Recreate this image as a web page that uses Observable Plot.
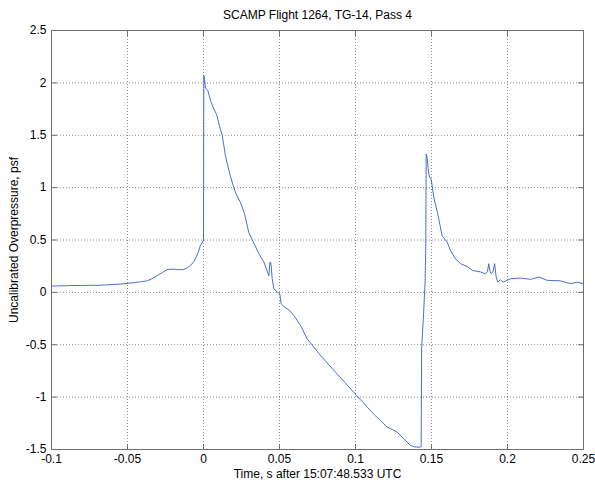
<!DOCTYPE html>
<html><head><meta charset="utf-8">
<script src="https://cdn.jsdelivr.net/npm/d3@7"></script>
<script src="https://cdn.jsdelivr.net/npm/@observablehq/plot@0.6"></script>
<style>body{margin:0;background:#fff}</style>
</head><body><div id="chart"></div>
<script>
const titleText = "SCAMP Flight 1264, TG-14, Pass 4";
const xLabel = "Time, s after 15:07:48.533 UTC";
const yLabel = "Uncalibrated Overpressure, psf";
const xTicks = [-0.1, -0.05, 0, 0.05, 0.1, 0.15, 0.2, 0.25];
const yTicks = [-1.5, -1, -0.5, 0, 0.5, 1, 1.5, 2, 2.5];

const time = [
  -0.1, -0.095, -0.09, -0.085, -0.08, -0.075, -0.07, -0.065, -0.06, -0.055,
  -0.05, -0.045, -0.04, -0.037, -0.034, -0.0305, -0.027, -0.024, -0.02, -0.016,
  -0.013, -0.0105, -0.0086, -0.0065, -0.0053, -0.0035, -0.002, -0.001, 0.0,
  0.0002, 0.0007, 0.0013, 0.0028, 0.0046, 0.0068, 0.0086, 0.0105, 0.0123, 0.0145,
  0.0173, 0.0195, 0.0217, 0.0243, 0.027, 0.0298, 0.0331, 0.0364, 0.0397, 0.043,
  0.0437, 0.0443, 0.0452, 0.0463, 0.0485, 0.0502, 0.0511, 0.0528, 0.0561, 0.0594,
  0.0638, 0.0682, 0.073, 0.078, 0.083, 0.088, 0.093, 0.098, 0.103, 0.108,
  0.1125, 0.1165, 0.1209, 0.1245, 0.1274, 0.1318, 0.1362, 0.139, 0.1428, 0.1432,
  0.1435, 0.1448, 0.1458, 0.1462, 0.1465, 0.1472, 0.148, 0.1487, 0.1498, 0.1515,
  0.1541, 0.157, 0.1603, 0.1625, 0.1658, 0.1691, 0.1735, 0.1768, 0.1822, 0.1855,
  0.1868, 0.1877, 0.1885, 0.1893, 0.1905, 0.1915, 0.1925, 0.1936, 0.1954, 0.1972,
  0.202, 0.2086, 0.2151, 0.2206, 0.2261, 0.2349, 0.2415, 0.2459, 0.25
];
const pressure = [
  0.06, 0.062, 0.064, 0.066, 0.065, 0.068, 0.067, 0.071, 0.074, 0.079,
  0.086, 0.094, 0.104, 0.11, 0.13, 0.16, 0.19, 0.218, 0.222, 0.216,
  0.218, 0.235, 0.257, 0.29, 0.32, 0.38, 0.45, 0.47, 0.5,
  2.07, 2.04, 1.95, 1.93, 1.83, 1.75, 1.70, 1.59, 1.50, 1.30,
  1.13, 1.02, 0.93, 0.86, 0.75, 0.57, 0.47, 0.37, 0.29, 0.16,
  0.29, 0.28, 0.13, 0.035, 0.003, -0.013, -0.11, -0.135, -0.167, -0.22,
  -0.316, -0.443, -0.53, -0.62, -0.70, -0.78, -0.86, -0.94, -1.02, -1.10,
  -1.17, -1.223, -1.287, -1.31, -1.335, -1.398, -1.462, -1.475, -1.478, -1.47,
  -0.54, -0.2, 0.11, 0.4, 1.32, 1.28, 1.15, 1.10, 1.08, 0.91,
  0.75, 0.54, 0.48, 0.40, 0.32, 0.274, 0.247, 0.21, 0.195, 0.178,
  0.2, 0.274, 0.2, 0.178, 0.2, 0.274, 0.15, 0.098, 0.12, 0.098,
  0.13, 0.137, 0.124, 0.146, 0.115, 0.11, 0.083, 0.098, 0.083
];
const data = time.map((t, i) => ({t, p: pressure[i]}));

const font = "'Liberation Sans', Arial, Helvetica, sans-serif";
const axisColor = "#6e6e6e";
const gridColor = "#8a8a8a";
const tickShape = {draw(ctx, l) { ctx.moveTo(0, 0); ctx.lineTo(0, -l); }};
const tickOpts = {length: 5, anchor: "start", shape: tickShape, stroke: axisColor, strokeWidth: 1};

const chart = Plot.plot({
  width: 595, height: 485,
  marginLeft: 51, marginRight: 12, marginTop: 30, marginBottom: 36,
  style: {fontFamily: font, fontSize: "12px", background: "#fff", color: "#000"},
  x: {domain: [-0.1, 0.25]},
  y: {domain: [-1.5, 2.5]},
  marks: [
    Plot.gridX(xTicks, {stroke: gridColor, strokeOpacity: 1, strokeDasharray: "1,2"}),
    Plot.gridY(yTicks, {stroke: gridColor, strokeOpacity: 1, strokeDasharray: "1,2"}),
    Plot.line(data, {x: "t", y: "p", stroke: "#3a5cc5", strokeWidth: 0.9}),
    Plot.frame({stroke: axisColor}),
    Plot.vectorX(xTicks, {...tickOpts, frameAnchor: "bottom", rotate: 0}),
    Plot.vectorX(xTicks, {...tickOpts, frameAnchor: "top", rotate: 180}),
    Plot.vectorY(yTicks, {...tickOpts, frameAnchor: "left", rotate: 90}),
    Plot.vectorY(yTicks, {...tickOpts, frameAnchor: "right", rotate: -90}),
    Plot.axisX(xTicks, {tickSize: 0, tickPadding: 5, tickFormat: d => String(d), label: null, fill: "#000", fontSize: 12}),
    Plot.axisY(yTicks, {tickSize: 0, tickPadding: 5, tickFormat: d => String(d), label: null, fill: "#000", fontSize: 12}),
    Plot.text([titleText], {text: d => d, frameAnchor: "top", lineAnchor: "middle", textAnchor: "middle", dy: -15, fontSize: 12, fill: "#000"}),
    Plot.text([xLabel], {text: d => d, frameAnchor: "bottom", lineAnchor: "middle", textAnchor: "middle", dy: 25, fontSize: 12, fill: "#000"}),
    Plot.text([yLabel], {text: d => d, frameAnchor: "left", lineAnchor: "middle", textAnchor: "middle", dx: -37, rotate: -90, fontSize: 12, fill: "#000"})
  ]
});
document.getElementById("chart").append(chart);
</script>
</body></html>
